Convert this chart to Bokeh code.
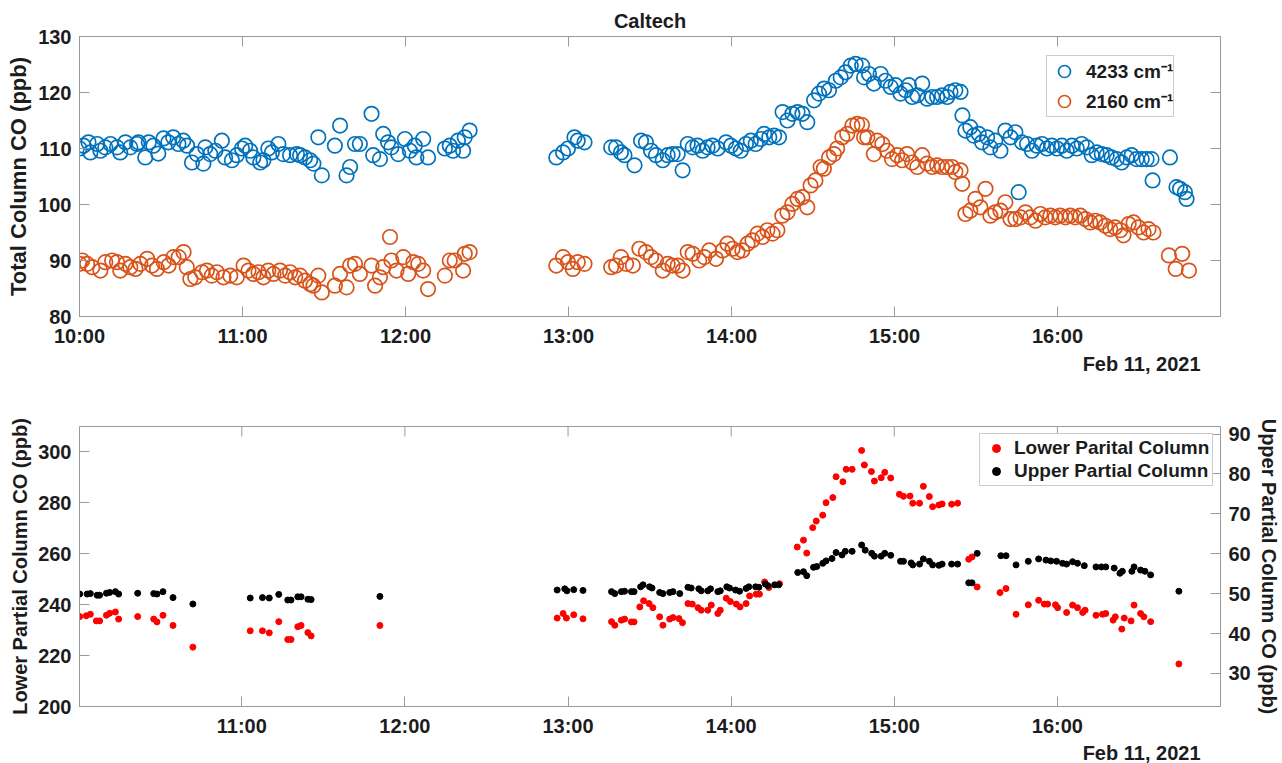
import numpy as np
from bokeh.plotting import figure
from bokeh.layouts import column
from bokeh.models import (Range1d, LinearAxis, FixedTicker, Legend, LegendItem,
                          Title, CustomJSTickFormatter)
from bokeh.embed import file_html
from bokeh.resources import INLINE

# ---------------- data (times in minutes after 10:00, Feb 11, 2021) ----------------
t_4233 = [0, 1.5, 3.3, 4.0, 6.5, 7.7, 9.5, 11.4, 13.8, 15.0, 16.9, 18.7, 21.2, 21.7, 24.2, 25.5,
          27.2, 29.0, 30.9, 32.7, 34.5, 36.4, 38.2, 39.6, 41.4, 43.2, 45.6, 46.3, 48.1, 50.0, 52.4,
          53.6, 56.1, 57.9, 59.8, 61.0, 62.8, 64.0, 66.5, 67.7, 69.5, 70.8, 73.2, 75.0, 77.5, 80.0,
          81.2, 83.0, 84.9, 86.1, 87.9, 89.2, 94.0, 95.9, 98.3, 99.6, 101.4, 103.2, 107.5, 108.1,
          110.6, 111.8, 113.6, 114.8, 117.3, 119.8, 121.6, 123.4, 124.0, 126.5, 128.3, 134.5, 136.3,
          137.5, 139.3, 141.2, 141.8, 143.6,
          175.5, 178.0, 179.8, 182.2, 183.4, 185.9,
          195.7, 197.5, 199.3, 200.6, 204.3, 206.7, 208.5, 210.4, 212.2, 214.7, 216.5, 218.3, 220.2,
          222.0, 223.9, 225.7, 227.5, 229.4, 231.2, 233.0, 234.9, 238.0, 239.8, 241.6, 243.4, 245.3,
          247.1, 248.9, 250.8, 252.0, 253.9, 255.7, 257.5, 258.8, 260.6, 262.4, 264.3, 266.1, 267.9,
          270.4, 272.2, 274.1, 275.9, 278.4, 280.2, 282.0, 283.9, 285.7, 288.1, 288.8, 290.6, 292.4,
          294.9, 296.7, 298.6, 300.4, 302.2, 304.1, 305.3, 306.5, 308.4, 310.2, 312.0, 313.9, 315.7,
          317.5, 319.4, 320.6, 322.4, 324.3, 325.0, 326.1, 327.9, 329.2, 331.0, 332.2, 334.1, 335.3,
          337.1, 339.0, 340.8, 342.7, 344.5, 345.7, 346.9, 348.8, 350.6, 352.4, 354.3, 356.1, 357.9,
          359.8, 361.6, 363.4, 365.3, 367.1, 368.9, 370.8, 372.6, 374.4, 376.3, 378.1, 379.9, 381.8,
          383.6, 385.5, 387.3, 389.1, 391.0, 392.8, 394.6, 395.0, 401.4, 403.8, 405.1, 406.9, 407.5]
co_4233 = [110.0, 110.5, 111.1, 109.3, 110.8, 109.6, 110.2, 110.8, 110.2, 109.3, 111.1, 110.2, 110.8,
           111.1, 108.4, 111.1, 110.5, 109.1, 111.8, 111.1, 112.0, 110.8, 111.4, 110.5, 107.5, 109.0,
           107.3, 110.2, 109.0, 109.6, 111.4, 108.4, 107.9, 108.8, 110.0, 110.5, 109.6, 108.4, 107.5,
           107.9, 110.0, 109.3, 110.8, 109.0, 108.8, 109.0, 108.8, 108.4, 107.9, 107.3, 112.0, 105.2,
           110.5, 114.1, 105.2, 106.7, 110.8, 110.8, 116.2, 108.8, 108.1, 112.6, 111.1, 110.2, 109.0,
           111.7, 109.6, 110.5, 108.4, 111.7, 108.4, 110.0, 110.5, 109.6, 111.4, 109.6, 112.0, 113.2,
           108.4, 109.3, 110.0, 112.0, 111.4, 111.1,
           110.2, 110.2, 109.3, 108.8, 107.0, 111.4, 111.1, 109.6, 108.8, 107.9, 108.8, 109.0, 109.0,
           106.1, 110.8, 110.2, 110.5, 109.6, 110.2, 110.5, 110.0, 111.1, 110.5, 110.0, 109.6, 110.8,
           111.4, 110.8, 111.7, 112.6, 112.0, 112.3, 112.0, 116.5, 115.0, 116.2, 116.5, 116.2, 114.7,
           118.6, 119.8, 120.7, 120.4, 122.1, 122.7, 123.6, 124.8, 125.1, 124.8, 122.7, 123.3, 121.6,
           123.3, 122.1, 121.0, 121.3, 119.8, 120.4, 121.3, 119.2, 119.5, 121.6, 118.9, 119.2, 119.2,
           119.5, 119.2, 120.1, 120.4, 120.1, 115.9, 113.2, 113.8, 112.3, 112.6, 111.1, 112.0, 110.2,
           111.4, 109.6, 113.2, 112.0, 112.9, 102.2, 111.1, 110.8, 109.6, 110.5, 110.8, 110.0, 110.5,
           110.0, 110.5, 109.6, 110.5, 110.0, 110.8, 110.2, 108.8, 109.3, 109.0, 108.8, 108.4, 108.1,
           107.5, 108.4, 108.8, 108.1, 108.1, 108.1, 108.1, 104.3, 108.4, 103.1, 102.8, 102.2, 101.0]

t_2160 = [0, 1.0, 2.8, 4.7, 7.7, 9.5, 12.0, 13.8, 15.0, 16.9, 18.7, 20.6, 22.4, 24.9, 26.7, 28.5,
          31.0, 32.8, 34.6, 36.5, 38.3, 39.5, 40.8, 42.6, 45.1, 46.9, 48.7, 50.6, 53.0, 55.5, 57.9,
          60.4, 62.2, 64.0, 65.9, 67.7, 69.5, 71.4, 73.8, 75.7, 77.5, 79.4, 81.2, 83.0, 84.9, 86.1,
          87.9, 89.2, 94.0, 95.9, 98.3, 99.6, 101.4, 103.2, 107.5, 108.8, 110.6, 111.8, 114.3, 114.8,
          116.7, 119.2, 121.0, 122.9, 124.7, 126.5, 128.3, 134.5, 136.3, 138.1, 141.2, 141.8, 143.6,
          175.5, 178.0, 179.8, 181.6, 183.4, 185.9,
          195.7, 197.5, 199.3, 201.2, 203.7, 206.1, 208.5, 210.4, 212.2, 214.7, 216.5, 218.3, 220.2,
          222.0, 223.9, 225.7, 228.1, 230.0, 231.8, 234.3, 236.7, 238.5, 240.4, 242.2, 244.0, 245.9,
          247.7, 249.6, 251.4, 253.2, 255.1, 256.9, 258.7, 260.6, 262.4, 264.3, 266.1, 267.9, 269.1,
          270.9, 272.8, 274.0, 275.9, 277.7, 278.9, 280.8, 282.6, 284.5, 286.3, 288.0, 288.8, 290.0,
          292.4, 293.6, 295.5, 297.3, 299.1, 301.0, 302.8, 304.6, 306.5, 308.4, 310.2, 312.0, 313.9,
          315.7, 317.5, 319.4, 321.2, 322.4, 324.3, 324.9, 326.1, 327.9, 329.8, 331.6, 333.5, 335.3,
          337.1, 339.0, 340.8, 342.7, 344.5, 346.4, 348.2, 350.0, 351.9, 353.7, 355.5, 357.4, 359.2,
          361.0, 362.9, 364.7, 366.5, 368.4, 370.2, 372.1, 373.9, 375.7, 377.6, 379.4, 381.2, 383.1,
          384.3, 386.2, 388.0, 389.8, 391.7, 393.5, 395.3, 401.0, 403.5, 405.9, 408.4]
co_2160 = [89.4, 90.0, 89.4, 88.8, 88.2, 89.7, 90.0, 89.7, 88.2, 89.4, 88.8, 88.5, 89.4, 90.3, 89.1,
           88.5, 89.7, 89.1, 90.6, 90.6, 91.5, 88.8, 86.7, 87.0, 87.9, 88.2, 87.3, 87.9, 87.0, 87.3,
           87.0, 89.1, 88.2, 87.6, 87.9, 87.0, 88.2, 87.6, 88.2, 87.3, 87.9, 87.0, 87.3, 86.4, 85.8,
           85.5, 87.3, 84.3, 85.5, 87.6, 85.2, 89.1, 89.4, 87.6, 89.1, 85.5, 87.0, 88.8, 94.2, 90.0,
           88.2, 90.6, 87.6, 89.7, 89.4, 88.2, 84.9, 87.3, 90.0, 90.0, 88.2, 91.2, 91.5,
           89.1, 90.6, 89.7, 88.5, 89.7, 89.4,
           88.8, 89.1, 90.6, 89.4, 89.1, 92.1, 91.5, 90.6, 90.0, 88.2, 89.4, 89.1, 89.1, 88.2, 91.5,
           91.2, 90.0, 90.6, 91.8, 90.3, 91.8, 93.0, 92.1, 91.5, 91.8, 93.0, 93.6, 94.8, 94.2, 95.4,
           94.8, 95.4, 98.0, 98.6, 100.1, 101.0, 101.3, 99.5, 103.4, 104.3, 106.7, 106.4, 108.4, 109.0,
           110.0, 112.0, 112.6, 114.1, 114.4, 114.2, 112.0, 112.0, 109.0, 111.4, 110.8, 109.6, 108.1,
           108.8, 107.9, 109.0, 107.5, 106.7, 108.8, 107.3, 106.7, 107.0, 106.7, 106.7, 106.7, 105.8,
           106.1, 103.7, 98.3, 98.9, 101.0, 99.5, 102.8, 98.0, 98.6, 98.9, 100.4, 97.4, 97.4, 97.7,
           98.6, 97.7, 97.1, 98.3, 97.7, 98.0, 97.7, 98.0, 97.7, 98.0, 97.7, 98.0, 97.4, 96.8, 97.1,
           96.8, 96.2, 95.6, 95.9, 95.4, 94.5, 96.5, 96.8, 95.9, 95.0, 95.6, 95.0, 90.9, 88.5, 91.2,
           88.2]

t_lower = [0.4, 2.8, 4.3, 6.5, 7.7, 10.2, 11.4, 13.5, 14.7, 21.7, 27.6, 28.8, 31.0, 34.7, 42.0,
           63.1, 67.6, 70.1, 73.6, 76.9, 78.1, 80.6, 81.8, 84.3, 85.5, 110.8,
           176.0, 178.2, 179.4, 182.1, 185.5, 196.0, 197.2, 199.6, 200.8, 203.3, 204.3, 206.4, 207.8,
           209.8, 211.2, 213.7, 214.9, 217.4, 218.6, 220.8, 222.1, 224.1, 225.7, 227.8, 229.0, 231.4,
           232.7, 235.1, 236.0, 238.2, 239.7, 241.9, 243.3, 245.5, 246.8, 249.2, 250.4, 252.3, 253.9,
           257.8, 264.3, 266.6, 267.8, 270.0, 271.3, 273.7, 274.9, 277.4, 278.6, 281.1, 282.3, 284.5,
           288.0, 289.0, 291.6, 292.7, 295.2, 296.5, 298.7, 301.9, 303.4, 305.8, 306.8, 309.3, 310.7,
           312.9, 314.1, 316.4, 317.6, 321.1, 323.3, 327.4, 328.6, 330.5, 338.9, 341.1, 344.8, 349.3,
           353.1, 355.2, 356.4, 359.3, 360.1, 363.4, 365.6, 367.4, 369.3, 370.2, 374.2, 376.6, 377.8,
           380.5, 381.3, 383.7, 384.6, 387.1, 388.2, 390.6, 391.8, 394.3, 404.7]
co_lower = [235.3, 235.6, 236.2, 233.6, 233.6, 235.8, 236.6, 237.1, 234.3, 235.3, 234.3, 233.2,
            235.8, 231.8, 223.3, 229.7, 229.7, 228.9, 233.3, 226.3, 226.3, 231.3, 231.8, 229.0, 227.7,
            231.8,
            234.7, 236.5, 234.7, 236.0, 234.4, 233.3, 231.9, 233.9, 234.3, 233.2, 233.2, 239.1, 241.5,
            240.4, 238.8, 235.2, 231.9, 234.3, 234.9, 234.5, 232.9, 240.4, 240.2, 238.8, 237.8, 237.8,
            239.8, 236.5, 237.8, 242.5, 241.2, 240.2, 239.1, 240.4, 243.4, 244.1, 244.1, 248.9, 246.7,
            248.2, 262.6, 265.3, 260.2, 270.2, 272.8, 275.1, 280.0, 282.0, 290.2, 288.2, 293.1, 293.1,
            300.5, 294.8, 292.2, 288.5, 289.8, 291.9, 289.7, 283.3, 282.5, 282.6, 279.8, 279.8, 286.4,
            282.4, 278.4, 279.1, 279.5, 279.4, 279.8, 257.8, 258.7, 246.9, 244.7, 246.3, 236.2, 239.9,
            241.7, 240.2, 240.2, 239.9, 238.8, 236.9, 239.8, 238.8, 236.9, 237.8, 235.8, 236.2, 236.5,
            233.9, 235.2, 230.4, 234.7, 233.6, 239.8, 236.5, 235.2, 233.3, 216.7]

t_upper = [0.4, 3.1, 4.3, 6.8, 7.7, 10.2, 11.4, 13.5, 14.7, 21.7, 27.6, 28.8, 31.0, 34.7, 42.0,
           63.1, 67.6, 70.1, 73.6, 76.9, 78.1, 80.6, 81.8, 84.3, 85.5, 110.8,
           176.0, 178.8, 179.6, 182.1, 185.5, 196.0, 197.2, 199.6, 200.8, 203.3, 204.3, 206.7, 207.6,
           210.0, 210.9, 213.7, 214.9, 217.4, 218.6, 221.1, 224.1, 225.3, 228.1, 229.0, 231.4, 232.4,
           235.1, 236.0, 238.4, 239.4, 241.6, 243.1, 245.5, 246.5, 249.0, 250.2, 252.6, 253.5, 256.0,
           257.5, 264.5, 266.6, 267.8, 270.3, 271.5, 273.7, 274.9, 277.1, 278.6, 280.8, 282.0, 284.5,
           288.0, 289.3, 291.7, 292.7, 295.2, 296.5, 298.7, 302.3, 303.4, 306.2, 306.8, 309.3, 310.7,
           312.9, 314.1, 316.4, 317.6, 321.1, 323.3, 327.4, 328.6, 330.5, 339.2, 341.1, 344.8, 349.3,
           353.1, 355.8, 357.6, 359.7, 361.9, 363.4, 365.6, 367.4, 369.9, 374.2, 376.2, 377.8, 380.9,
           383.0, 383.9, 387.4, 388.2, 390.6, 392.2, 394.3, 404.7]
co_upper = [49.9, 49.9, 50.0, 49.6, 49.6, 50.1, 50.3, 50.5, 49.9, 50.1, 50.0, 49.9, 50.5, 49.0, 47.4,
            48.9, 49.0, 48.9, 49.8, 48.4, 48.4, 49.2, 49.2, 48.6, 48.5, 49.3,
            50.9, 51.2, 50.7, 51.0, 50.8, 50.5, 50.0, 50.5, 50.6, 50.5, 50.5, 51.7, 52.2, 51.7, 51.4,
            50.3, 50.0, 50.3, 50.5, 50.0, 51.6, 51.4, 51.2, 50.7, 50.7, 51.2, 50.5, 50.7, 51.7, 51.4,
            50.9, 50.6, 51.3, 51.7, 51.7, 51.6, 52.4, 52.0, 52.2, 52.2, 55.3, 55.5, 54.5, 56.6, 56.8,
            57.6, 58.2, 58.8, 60.3, 59.7, 60.6, 60.6, 62.2, 60.9, 60.1, 59.4, 59.4, 60.1, 59.6, 58.1,
            58.1, 57.7, 57.2, 57.4, 58.7, 58.1, 57.2, 57.1, 57.4, 57.4, 57.4, 52.7, 52.7, 60.1, 59.5,
            59.5, 57.2, 58.1, 58.7, 58.4, 58.2, 58.1, 57.6, 57.4, 58.0, 57.6, 57.0, 56.7, 56.7, 56.7,
            56.4, 55.1, 55.6, 55.6, 56.7, 55.9, 55.6, 54.7, 50.6]

hour_ticks = [10, 11, 12, 13, 14, 15, 16]
hour_ticks_low = [11, 12, 13, 14, 15, 16]
top_yticks = [80, 90, 100, 110, 120, 130]
low_yticks = [200, 220, 240, 260, 280, 300]
up_yticks = [30, 40, 50, 60, 70, 80, 90]

def hours(t):
    return [10 + v / 60.0 for v in t]

FONT = "Liberation Sans"
AXC = "#9a9a9a"
TXT = "#1c1c1c"
BLUE = "#0072BD"
ORANGE = "#D95319"
TICKLEN = 10
TIMEFMT = CustomJSTickFormatter(code="return Math.round(tick) + ':00';")


def style_axis(ax, ticks, fs="20px"):
    ax.ticker = FixedTicker(ticks=ticks)
    ax.major_tick_in = TICKLEN
    ax.major_tick_out = 0
    ax.minor_tick_line_color = None
    ax.major_tick_line_color = AXC
    ax.axis_line_color = AXC
    ax.major_label_text_font = FONT
    ax.major_label_text_font_style = "bold"
    ax.major_label_text_color = TXT
    ax.major_label_text_font_size = fs
    ax.major_label_standoff = 8
    ax.axis_label_text_font = FONT
    ax.axis_label_text_font_style = "bold"
    ax.axis_label_text_color = TXT


def box_ticks(p, xticks, yticks=None):
    # inward tick marks on the top (and optionally right) edge of the box
    ytop = p.y_range.end
    p.ray(x=xticks, y=[ytop] * len(xticks), length=TICKLEN, length_units="screen",
          angle=-np.pi / 2, line_color=AXC, line_width=1)
    if yticks is not None:
        xr = p.x_range.end
        p.ray(x=[xr] * len(yticks), y=yticks, length=TICKLEN, length_units="screen",
              angle=np.pi, line_color=AXC, line_width=1)


# ---------------- top panel ----------------
p1 = figure(width=1282, height=383, x_range=Range1d(10, 17), y_range=Range1d(80, 130),
            output_backend="svg", toolbar_location=None,
            min_border_left=79, min_border_right=61, min_border_top=36, min_border_bottom=67)
p1.title.text = "Caltech"
p1.title.align = "center"
p1.title.text_font = FONT
p1.title.text_font_size = "20px"
p1.title.text_font_style = "bold"
p1.title.text_color = TXT
p1.grid.visible = False
p1.outline_line_color = AXC
style_axis(p1.xaxis[0], hour_ticks)
p1.xaxis[0].formatter = TIMEFMT
style_axis(p1.yaxis[0], top_yticks)
p1.yaxis[0].axis_label = "Total Column CO (ppb)"
p1.yaxis[0].axis_label_text_font_size = "22px"
p1.yaxis[0].axis_label_standoff = 4
box_ticks(p1, hour_ticks, top_yticks)

r_b = p1.scatter(hours(t_4233), co_4233, marker="circle", size=14.5, fill_color=None,
                 line_color=BLUE, line_width=1.7)
r_o = p1.scatter(hours(t_2160), co_2160, marker="circle", size=14.5, fill_color=None,
                 line_color=ORANGE, line_width=1.7)
leg1 = Legend(items=[LegendItem(label="4233 cm\u207b\u00b9", renderers=[r_b]),
                     LegendItem(label="2160 cm\u207b\u00b9", renderers=[r_o])],
              location=(967, 199))
leg1.label_text_font = FONT
leg1.label_text_font_size = "19px"
leg1.label_text_font_style = "bold"
leg1.label_text_color = TXT
leg1.border_line_color = AXC
leg1.padding = 0
leg1.spacing = 0
leg1.glyph_height = 30
leg1.glyph_width = 34
leg1.label_height = 20
leg1.label_standoff = 5
leg1.margin = 0
p1.add_layout(leg1)
d1 = Title(text="Feb 11, 2021", align="right", text_font=FONT, text_font_size="20px",
           text_font_style="bold", text_color=TXT, offset=20, standoff=2)
p1.add_layout(d1, "below")

# ---------------- bottom panel ----------------
p2 = figure(width=1282, height=380, x_range=Range1d(10.005, 17), y_range=Range1d(200, 309.9),
            output_backend="svg", toolbar_location=None,
            min_border_left=78, min_border_right=61, min_border_top=43, min_border_bottom=57)
p2.extra_y_ranges = {"upper": Range1d(21.7, 91.9)}
p2.grid.visible = False
p2.outline_line_color = AXC
style_axis(p2.xaxis[0], hour_ticks_low)
p2.xaxis[0].formatter = TIMEFMT
p2.xaxis[0].major_label_standoff = 8
style_axis(p2.yaxis[0], low_yticks)
p2.yaxis[0].axis_label = "Lower Partial Column CO (ppb)"
p2.yaxis[0].axis_label_text_font_size = "20px"
p2.yaxis[0].axis_label_standoff = 4
ax_r2 = LinearAxis(y_range_name="upper", axis_label="Upper Partial Column CO (ppb)")
style_axis(ax_r2, up_yticks)
ax_r2.axis_label_text_font_size = "20px"
ax_r2.axis_label_standoff = 4
p2.add_layout(ax_r2, "right")
box_ticks(p2, hour_ticks_low)

r_low = p2.scatter(hours(t_lower), co_lower, marker="circle", size=6, fill_color="#FF0000",
                   line_color="#FF0000")
r_up = p2.scatter(hours(t_upper), co_upper, marker="circle", size=6, fill_color="black",
                  line_color="black", y_range_name="upper")
leg2 = Legend(items=[LegendItem(label="Lower Parital Column", renderers=[r_low]),
                     LegendItem(label="Upper Partial Column", renderers=[r_up])],
              location=(900, 220))
leg2.label_text_font = FONT
leg2.label_text_font_size = "19px"
leg2.label_text_font_style = "bold"
leg2.label_text_color = TXT
leg2.border_line_color = AXC
leg2.padding = 3
leg2.spacing = 1
leg2.glyph_height = 20
leg2.glyph_width = 26
leg2.label_height = 20
leg2.label_standoff = 5
leg2.margin = 0
p2.add_layout(leg2)
d2 = Title(text="Feb 11, 2021", align="right", text_font=FONT, text_font_size="20px",
           text_font_style="bold", text_color=TXT, offset=20, standoff=0)
p2.add_layout(d2, "below")

layout = column(p1, p2, spacing=0)
open("out.html", "w").write(file_html(layout, INLINE))
